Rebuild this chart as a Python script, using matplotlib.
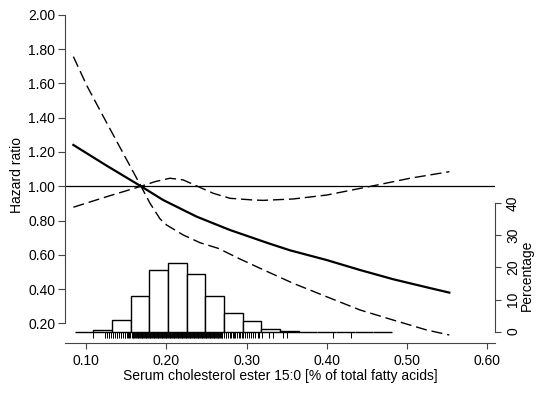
import matplotlib
matplotlib.use('Agg')
import matplotlib.pyplot as plt
import numpy as np

plt.rcParams['font.family'] = ['Liberation Sans', 'DejaVu Sans']
plt.rcParams['font.size'] = 10

# ---------------- data ----------------
hr_x = [0.084, 0.1256, 0.1684, 0.196, 0.2378, 0.2794, 0.3272, 0.354, 0.400, 0.4415, 0.483, 0.5248, 0.553]
hr_y = [1.241, 1.120, 1.000, 0.920, 0.823, 0.745, 0.668, 0.627, 0.570, 0.512, 0.458, 0.411, 0.380]

lo_x = [0.084, 0.101, 0.121, 0.142, 0.1684, 0.1796, 0.1921, 0.2004, 0.2211, 0.242, 0.2648, 0.2919,
        0.3168, 0.3584, 0.400, 0.4415, 0.483, 0.5248, 0.553]
lo_y = [1.756, 1.585, 1.410, 1.228, 1.000, 0.901, 0.810, 0.774, 0.716, 0.671, 0.638, 0.576,
        0.522, 0.434, 0.356, 0.279, 0.220, 0.162, 0.133]

up_x = [0.084, 0.1260, 0.1684, 0.1858, 0.2045, 0.2211, 0.2378, 0.2586, 0.2794, 0.3085, 0.321, 0.358,
        0.400, 0.4582, 0.504, 0.553]
up_y = [0.878, 0.940, 1.000, 1.027, 1.047, 1.037, 1.002, 0.959, 0.930, 0.920, 0.918, 0.926,
        0.949, 1.003, 1.047, 1.085]

hist_edges = [0.0856, 0.1089, 0.1322, 0.1555, 0.1788, 0.2021, 0.2254, 0.2487, 0.2720, 0.2953,
              0.3186, 0.3419, 0.3652, 0.3885, 0.4118, 0.4351, 0.4584, 0.4817]
hist_pct = [0.0, 0.6, 3.5, 11.0, 19.1, 21.5, 18.1, 11.0, 5.9, 3.3, 0.8, 0.2, 0.0, 0.0, 0.0, 0.0, 0.0]

rug = [0.108, 0.124, 0.126, 0.128, 0.129, 0.131, 0.133, 0.134, 0.136, 0.138, 0.139, 0.141, 0.143,
       0.144, 0.146, 0.148, 0.149, 0.151, 0.152, 0.154, 0.155, 0.157, 0.158, 0.159,
       0.160, 0.161, 0.162, 0.163, 0.164, 0.165, 0.166, 0.167, 0.168, 0.169,
       0.170, 0.171, 0.172, 0.173, 0.174, 0.175, 0.176, 0.177, 0.178, 0.179,
       0.180, 0.181, 0.182, 0.183, 0.184, 0.185, 0.186, 0.187, 0.188, 0.189,
       0.190, 0.191, 0.192, 0.193, 0.194, 0.195, 0.196, 0.197, 0.198, 0.199,
       0.200, 0.201, 0.202, 0.203, 0.204, 0.205, 0.206, 0.207, 0.208, 0.209,
       0.210, 0.211, 0.212, 0.213, 0.214, 0.215, 0.216, 0.217, 0.218, 0.219,
       0.220, 0.221, 0.222, 0.223, 0.224, 0.225, 0.226, 0.227, 0.228, 0.229,
       0.230, 0.231, 0.232, 0.233, 0.234, 0.235, 0.236, 0.237, 0.238, 0.239,
       0.240, 0.241, 0.242, 0.243, 0.244, 0.245, 0.246, 0.247, 0.248, 0.249,
       0.250, 0.251, 0.252, 0.253, 0.254, 0.255, 0.256, 0.257, 0.258, 0.259,
       0.260, 0.261, 0.262, 0.263, 0.264, 0.265, 0.266, 0.267, 0.268, 0.269, 0.270,
       0.272, 0.274, 0.275, 0.277, 0.279, 0.281, 0.283, 0.284, 0.286, 0.288, 0.290,
       0.292, 0.294, 0.296, 0.298, 0.300, 0.303, 0.305, 0.308, 0.311, 0.314, 0.316,
       0.319, 0.328, 0.333, 0.346, 0.351, 0.408, 0.430]

x_ticks = [0.10, 0.20, 0.30, 0.40, 0.50, 0.60]
y_ticks = [0.20, 0.40, 0.60, 0.80, 1.00, 1.20, 1.40, 1.60, 1.80, 2.00]
pct_ticks = [0, 10, 20, 30, 40]

# ---------------- layout ----------------
W, H = 554, 396
fig = plt.figure(figsize=(W / 100, H / 100), dpi=100)
ax = fig.add_axes([65 / W, 1 - 343.3 / H, (495 - 65) / W, (343.3 - 14.8) / H])
ax.set_xlim(0.1 + (65 - 86.2) / 801.6, 0.1 + (495 - 86.2) / 801.6)
ax.set_ylim(0.0845, 2.0)
ax.patch.set_visible(False)

ax2 = ax.twinx()
ax2.set_ylim(-3.64, 98.7)

spine_col = '#444444'
for s in ['top', 'right']:
    ax.spines[s].set_visible(False)
ax.spines['left'].set_bounds(0.2, 2.0)
ax.spines['left'].set_color(spine_col)
ax.spines['bottom'].set_color(spine_col)
for s in ['top', 'left', 'bottom']:
    ax2.spines[s].set_visible(False)
ax2.spines['right'].set_bounds(0, 40)
ax2.spines['right'].set_color(spine_col)

ax.set_xticks(x_ticks)
ax.set_xticklabels(['%.2f' % v for v in x_ticks])
ax.set_yticks(y_ticks)
ax.set_yticklabels(['%.2f' % v for v in y_ticks])
ax2.set_yticks(pct_ticks)
ax2.set_yticklabels([str(v) for v in pct_ticks])

ax.tick_params(axis='x', direction='out', length=4, width=0.8, color=spine_col, pad=4)
ax.tick_params(axis='y', direction='out', length=5, width=0.8, color=spine_col, pad=2)
ax2.tick_params(axis='y', direction='out', length=4, width=0.8, color=spine_col, pad=4,
                labelrotation=90)
for lab in ax2.get_yticklabels():
    lab.set_va('center')

# ---------------- marks ----------------
ax2.bar(hist_edges[:-1], hist_pct, width=np.diff(hist_edges), align='edge',
        facecolor='white', edgecolor='black', linewidth=1.0, zorder=1)
ax2.vlines(rug, -2.0, 0, color='black', linewidth=0.7, zorder=1)

ax.axhline(1.0, color='black', linewidth=0.9, zorder=2)
ax.plot(hr_x, hr_y, color='black', linewidth=1.6, zorder=3)
ax.plot(lo_x, lo_y, color='black', linewidth=1.0, linestyle=(0, (8, 3.5)), zorder=3)
ax.plot(up_x, up_y, color='black', linewidth=1.0, linestyle=(0, (8, 3.5)), zorder=3)

ax.set_zorder(2)
ax2.set_zorder(1)

# ---------------- labels ----------------
fig.text(17 / W, 1 - 175 / H, 'Hazard ratio', rotation=90, ha='center', va='center')
fig.text(280 / W, 1 - 376 / H, 'Serum cholesterol ester 15:0 [% of total fatty acids]',
         ha='center', va='center')
fig.text(527 / W, 1 - 275 / H, 'Percentage', rotation=90, ha='center', va='center')

fig.savefig('out.png', dpi=100)
